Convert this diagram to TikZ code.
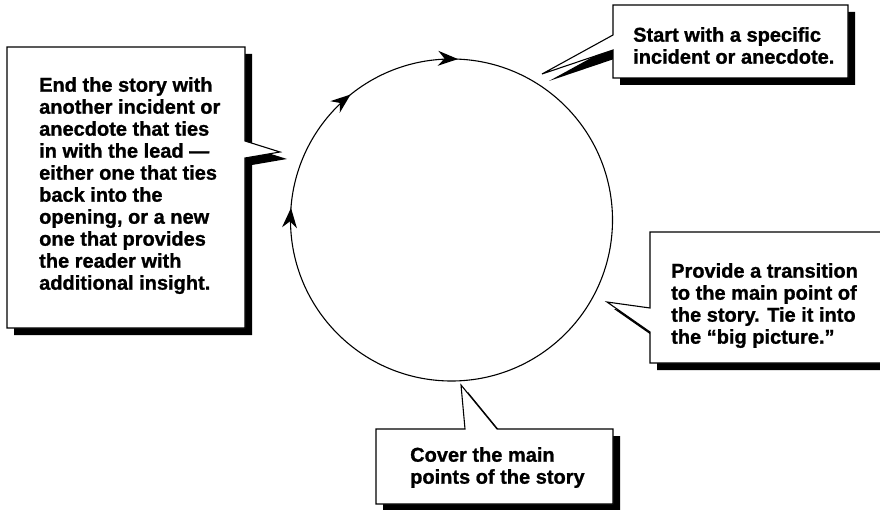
\documentclass[tikz,border=0pt]{standalone}
\usepackage{fontspec}
\setmainfont{Liberation Sans}[BoldFeatures={FakeBold=1.1}]

\begin{document}
\begin{tikzpicture}[x=1pt, y=-1pt,
		callout/.style={draw, fill=white, line width=1.1pt, line join=miter},
		shadow/.style={fill=black, shift={(7,7)}},
		note/.style={anchor=north west, align=left, inner sep=0pt,
			font=\fontsize{20}{22}\selectfont\bfseries},
		pics/flowtip/.style={code={\fill (0, 0) -- (-20, -7.5) -- (-13.5, 0) -- (-20, 7.5) -- cycle;}}]
				\clip (0, 0) rectangle (880, 510);
				\fill[white] (0, 0) rectangle (880, 510);

				% the cycle
				\coordinate (Mid) at (451.5, 220);
				\draw[line width=1.1pt] (Mid) circle [radius=161pt];
				\coordinate (FlowA) at (291.0, 207.9);
				\pic[rotate=85.7] at (FlowA) {flowtip};
				\coordinate (FlowB) at (350.6, 94.5);
				\pic[rotate=38.8] at (FlowB) {flowtip};
				\coordinate (FlowC) at (458.0, 59.1);
				\pic[rotate=-2.3] at (FlowC) {flowtip};

				% start
				\fill[shadow] (613, 5) -- (848, 5) -- (848, 78) -- (613, 78) -- (613, 50) -- (542, 74) -- (613, 35) -- cycle;
				\draw[callout] (613, 5) -- (848, 5) -- (848, 78) -- (613, 78) -- (613, 50) -- (542, 74) -- (613, 35) -- cycle;
				\node (Start) [note] at (633, 27) {Start with a specific\\incident or anecdote.};

				% transition
				\fill[shadow] (650, 232) -- (900, 232) -- (900, 363) -- (650, 363) -- (650, 332) -- (607, 302) -- (650, 308) -- cycle;
				\draw[callout] (650, 232) -- (900, 232) -- (900, 363) -- (650, 363) -- (650, 332) -- (607, 302) -- (650, 308) -- cycle;
				\node (Transition) [note] at (671, 263) {Provide a transition\\to the main point of\\the story. Tie it into\\the “big picture.”};

				% main points
				\fill[shadow] (376, 429) -- (465, 429) -- (461, 385) -- (497, 429) -- (613, 429) -- (613, 504) -- (376, 504) -- cycle;
				\draw[callout] (376, 429) -- (465, 429) -- (461, 385) -- (497, 429) -- (613, 429) -- (613, 504) -- (376, 504) -- cycle;
				\node (Points) [note] at (410, 447) {Cover the main\\points of the story};

				% ending
				\fill[shadow] (7, 47) -- (245, 47) -- (245, 141) -- (280, 152) -- (245, 158) -- (245, 328) -- (7, 328) -- cycle;
				\draw[callout] (7, 47) -- (245, 47) -- (245, 141) -- (280, 152) -- (245, 158) -- (245, 328) -- (7, 328) -- cycle;
				\node (Ending) [note] at (39, 77) {End the story with\\another incident or\\anecdote that ties\\in with the lead —\\either one that ties\\back into the\\opening, or a new\\one that provides\\the reader with\\additional insight.};
\end{tikzpicture}
\end{document}
